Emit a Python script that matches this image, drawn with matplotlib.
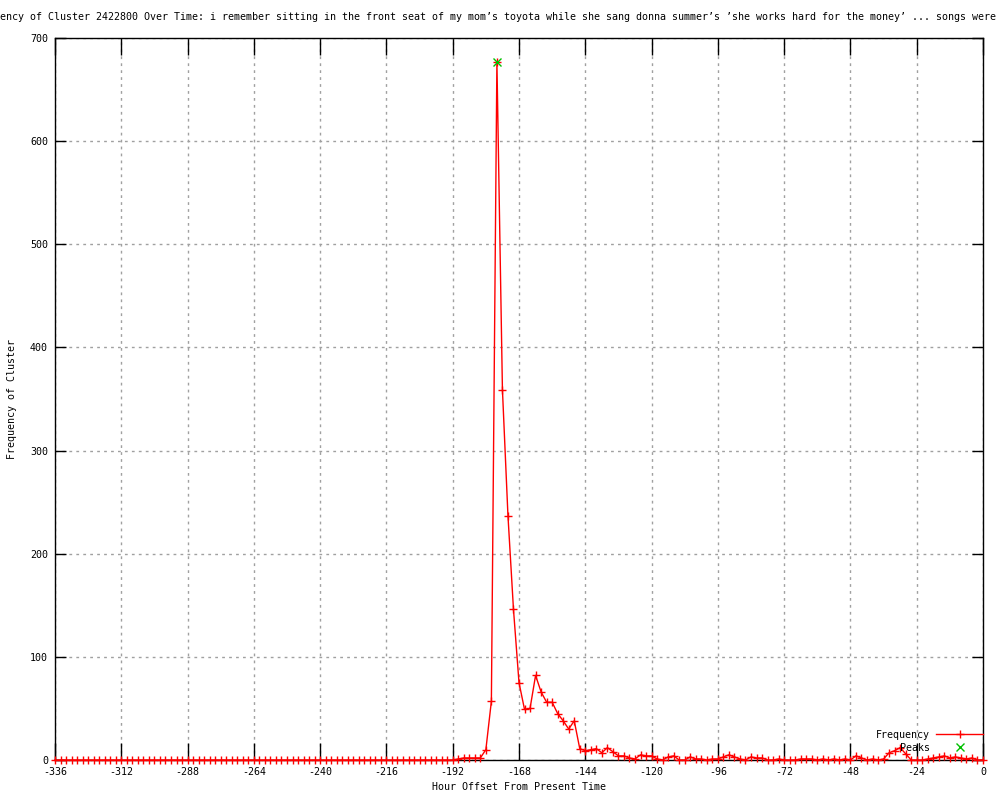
import numpy as np
import matplotlib
matplotlib.use("Agg")
import matplotlib.pyplot as plt

plt.rcParams['font.family'] = ['DejaVu Sans Mono']
plt.rcParams['axes.unicode_minus'] = False

title = ("Frequency of Cluster 2422800 Over Time: i remember sitting in the front seat of my mom\u2019s "
         "toyota while she sang donna summer\u2019s \u2019she works hard for the money\u2019 ... songs were just")

# hour offsets, 2 hour bins from -336 to 0
hours = np.arange(-336, 1, 2)

# frequency values
quiet_start = [0] * 72   # -336 .. -194
burst = [0, 1, 2, 2, 2, 2, 10, 57, 677, 359, 237, 146, 75, 49, 50, 82, 66, 56, 56,
         45, 38, 30, 38, 11, 9, 10, 11, 7, 12, 8, 4, 4, 2, 1, 5]          # -192 .. -124
tail = [4, 4, 1, 0, 3, 4, 0, 0, 3, 1, 1, 0, 1, 1, 3, 5, 3, 1, 0, 3, 2, 2,
        0, 0, 1, 0, 0, 0, 1, 1, 1, 0, 1, 0, 1, 0, 1, 0, 4, 2, 0, 1, 0, 1,
        7, 9, 12, 6, 0, 0, 0, 1, 2, 3, 4, 2, 3, 2, 1, 2, 0, 0]              # -122 .. 0
freq = quiet_start + burst + tail

peak_hours = [-176]
peak_vals = [677]

fig = plt.figure(figsize=(10, 8), dpi=100)
ax = fig.add_axes([0.055, 0.05, 0.928, 0.9025])

ax.plot(hours, freq, color='#ff0000', lw=1, marker='+', ms=6, mew=1,
        label='Frequency', clip_on=False, zorder=3)
ax.plot(peak_hours, peak_vals, ls='none', color='#00c000', marker='x', ms=6, mew=1,
        label='Peaks', clip_on=False, zorder=4)

ax.set_xlim(-336, 0)
ax.set_ylim(0, 700)
ax.set_xticks(np.arange(-336, 1, 24))
ax.set_yticks(np.arange(0, 701, 100))
ax.tick_params(direction='in', length=8, width=1, top=True, right=True, labelsize=7.2, pad=5)
ax.tick_params(axis='x', length=12)
ax.grid(True, color='#a0a0a0', lw=1, ls=(0, (2, 3)))
for s in ax.spines.values():
    s.set_linewidth(1)

ax.set_xlabel('Hour Offset From Present Time', fontsize=7.2, labelpad=4)
ax.set_ylabel('Frequency of Cluster', fontsize=7.2)
ax.yaxis.set_label_coords(-0.041, 0.5)

fig.text(-0.030, 0.979, title, ha='left', va='center', fontsize=7.2)

ax.legend(loc='lower right', bbox_to_anchor=(1.0, 0.01), frameon=False, markerfirst=False,
          fontsize=7.2, borderpad=0, borderaxespad=0, handlelength=4.7, handletextpad=0.6,
          labelspacing=0.3)

fig.savefig('out.png', dpi=100)
